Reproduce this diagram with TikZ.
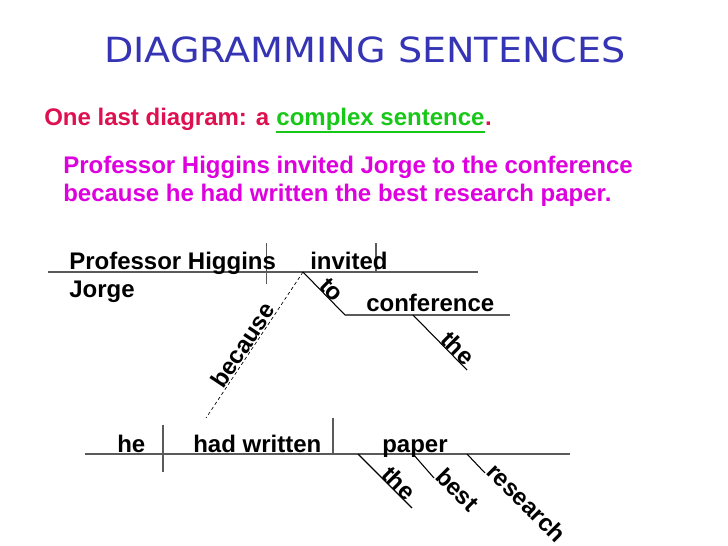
\documentclass[tikz,border=0pt]{standalone}
\usepackage{fontspec}
\setmainfont{Liberation Sans}
\newfontfamily\titlefont{DejaVu Sans}
\usetikzlibrary{calc}
\definecolor{ttlblue}{RGB}{52,52,180}
\definecolor{crimsonred}{RGB}{222,16,80}
\definecolor{brightgreen}{RGB}{24,200,24}
\definecolor{magentatxt}{RGB}{222,0,222}
\definecolor{linegray}{RGB}{90,90,90}
\begin{document}
\begin{tikzpicture}[x=0.75pt,y=-0.75pt,
  word/.style={font=\fontsize{18}{21}\selectfont\bfseries, inner sep=0pt, anchor=base west},
  mainline/.style={draw=linegray, line width=0.9pt},
  slant/.style={draw=black, line width=0.8pt},
  dashline/.style={draw=black, line width=0.5pt, dash pattern=on 2.5pt off 2pt}]
\useasboundingbox (0,0) rectangle (728,546);
\fill[white] (0,0) rectangle (728,546);

% title and headings
\node[font=\titlefont\fontsize{26}{30}\selectfont, text=ttlblue, anchor=base, inner sep=0pt, xscale=1.10] (title) at (365,62) {DIAGRAMMING SENTENCES};
\node[word, text=crimsonred] (introa) at (44,125) {One last diagram: a};
\node[word, text=brightgreen, xshift=5pt] (introb) at (introa.base east) {complex sentence};
\node[word, text=crimsonred] (introc) at (introb.base east) {.};
\draw[brightgreen, line width=1.5pt] ($(introb.base west)+(0,6.5)$) -- ($(introb.base east)+(0,6.5)$);
\node[word, text=magentatxt] (sent1) at (63,173) {Professor Higgins invited Jorge to the conference};
\node[word, text=magentatxt] (sent2) at (63,201) {because he had written the best research paper.};

% main clause
\coordinate (tl) at (48,272);
\coordinate (tr) at (478,272);
\coordinate (sv1) at (266.7,243);
\coordinate (sv2) at (266.7,284);
\coordinate (vo1) at (376,243);
\coordinate (vo2) at (376,272);
\coordinate (tojoint) at (303,272);
\coordinate (tobend) at (345,315);
\coordinate (confend) at (510,315);
\coordinate (the1a) at (413,315);
\coordinate (the1b) at (467,370);
\draw[mainline] (tl) -- (tr);
\draw[mainline] (sv1) -- (sv2);
\draw[mainline] (vo1) -- (vo2);
\draw[slant] (tojoint) -- (tobend);
\draw[mainline] (tobend) -- (confend);
\draw[slant] (the1a) -- (the1b);
\node[word] (prof) at (69,269) {Professor Higgins};
\node[word] (invited) at (310,269) {invited};
\node[word] (jorge) at (69,297) {Jorge};
\node[word] (conf) at (366,311) {conference};
\node[word, rotate=-45] (to) at (318,287) {to};
\node[word, rotate=-45] (the1) at (439,341) {the};

% subordinate clause
\coordinate (bl) at (85,454);
\coordinate (br) at (570,454);
\coordinate (hv1) at (163,425);
\coordinate (hv2) at (163,472);
\coordinate (wp1) at (333,418);
\coordinate (wp2) at (333,454);
\coordinate (becausebot) at (206,418);
\coordinate (the2a) at (358,454);
\coordinate (the2b) at (412,508);
\coordinate (besta) at (413,454);
\coordinate (resa) at (467,454);
\draw[mainline] (bl) -- (br);
\draw[mainline] (hv1) -- (hv2);
\draw[mainline] (wp1) -- (wp2);
\draw[slant] (the2a) -- (the2b);
\node[word] (he) at (117,452) {he};
\node[word] (had) at (193,452) {had written};
\node[word] (paper) at (382,452) {paper};
\node[word, rotate=-45] (the2) at (380,476) {the};
\node[word, rotate=-45] (best) at (434,478) {best};
\node[word, rotate=-45] (research) at (485,473) {research};
\draw[slant] (besta) -- (best.base west);
\draw[slant] (resa) -- (research.base west);

% because
\draw[dashline] (tojoint) -- (becausebot);
\node[word, rotate=56.4] (because) at (223,390) {because};
\end{tikzpicture}
\end{document}
